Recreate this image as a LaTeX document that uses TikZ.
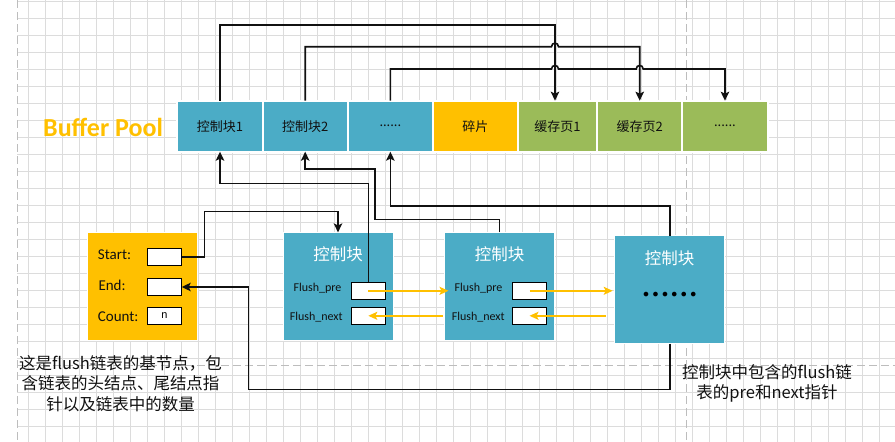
\documentclass[tikz,border=0pt]{standalone}
\usepackage{fontspec}
\setmainfont{Carlito}
\newfontfamily\cjk{Noto Sans CJK SC}
\newfontfamily\dejavu{DejaVu Sans}
\newfontfamily\monof{Liberation Mono}
\usetikzlibrary{arrows.meta}
\definecolor{cbblue}{HTML}{4BACC6}
\definecolor{cborange}{HTML}{FFC000}
\definecolor{cbgreen}{HTML}{9BBB59}
\definecolor{gridc}{HTML}{DCDCDC}
\definecolor{pagec}{HTML}{BDBDBD}
\definecolor{ink}{HTML}{111111}
\tikzset{
  gridline/.style={draw=gridc, line width=0.7pt},
  pageline/.style={draw=pagec, line width=0.9pt, dash pattern=on 8pt off 4pt},
  cell/.style={draw=white, line width=2pt, inner sep=0pt, outer sep=0pt,
    minimum height=51pt, font=\cjk\fontsize{13}{15}\selectfont, text=ink},
  bigbox/.style={draw=white, line width=1pt, inner sep=0pt, outer sep=0pt,
    minimum width=110pt, minimum height=108pt},
  field/.style={draw=black, fill=white, line width=0.8pt, inner sep=0pt,
    outer sep=0pt, minimum width=34.5pt, minimum height=17pt},
  flab/.style={font=\fontsize{12}{14}\selectfont, inner sep=0pt, text=ink, anchor=base},
  blab/.style={font=\fontsize{15}{18}\selectfont, inner sep=0pt, text=ink, anchor=base west},
  cbtitle/.style={font=\cjk\fontsize{16.5}{18}\selectfont, text=white, inner sep=0pt},
  anno/.style={font=\cjk\fontsize{16.5}{20.3}\selectfont, align=center, inner sep=0pt, text=ink},
  conn/.style={draw=ink, line width=1.6pt,
    -{Stealth[length=9pt,width=8.5pt,inset=2pt]}},
  yarrow/.style={draw=cborange, line width=1.5pt,
    -{Stealth[length=9pt,width=8pt,inset=2pt]}},
}
\begin{document}
\begin{tikzpicture}[x=1pt,y=-1pt]
\useasboundingbox (0,0) rectangle (895,442);
\fill[white] (0,0) rectangle (895,442);
% grid
\foreach \i in {0,...,51} {\draw[gridline] ({28.3+17.02*\i},0) -- ({28.3+17.02*\i},442);}
\foreach \j in {0,...,25} {\draw[gridline] (17,{1.28+17.02*\j}) -- (895,{1.28+17.02*\j});}
% page break lines
\draw[pageline] (17,0) -- (17,442);
\draw[pageline] (686,0) -- (686,442);
\draw[pageline] (17,365.5) -- (895,365.5);

% Buffer Pool row
\node[font=\bfseries\fontsize{26}{30}\selectfont, text=cborange, anchor=west, inner sep=0pt] (bptitle) at (43,127) {Buffer Pool};
\node[cell, fill=cbblue,   minimum width=85.4pt] (bp1) at (220,126.2) {控制块1};
\node[cell, fill=cbblue,   minimum width=85pt]   (bp2) at (305.2,126.2) {控制块2};
\node[cell, fill=cbblue,   minimum width=85.3pt] (bp3) at (390.35,126.2) {......};
\node[cell, fill=cborange, minimum width=84.7pt] (bp4) at (475.35,126.2) {碎片};
\node[cell, fill=cbgreen,  minimum width=79.5pt] (bp5) at (557.45,126.2) {缓存页1};
\node[cell, fill=cbgreen,  minimum width=85pt]   (bp6) at (639.7,126.2) {缓存页2};
\node[cell, fill=cbgreen,  minimum width=85.5pt] (bp7) at (724.95,126.2) {......};

% top connectors with line jumps
\draw[conn] (bp1.north) -- (220,25) -- (555,25) -- ([xshift=-2.45pt]bp5.north);
\draw[conn] (bp2.north) -- (305.2,46.7) -- (551.5,46.7)
  .. controls (551.5,42) and (558.5,42) .. (558.5,46.7)
  -- (639.7,46.7) -- (bp6.north);
\draw[conn] (bp3.north) -- (390.35,69) -- (551.5,69)
  .. controls (551.5,64.3) and (558.5,64.3) .. (558.5,69)
  -- (636.2,69)
  .. controls (636.2,64.3) and (643.2,64.3) .. (643.2,69)
  -- (724.95,69) -- (bp7.north);

% base node
\node[bigbox, fill=cborange, minimum width=109.7pt] (base) at (142.3,286.4) {};
\node[blab] (lstart) at (97.7,259.3) {Start:};
\node[blab] (lend) at (98.3,290.7) {End:};
\node[blab] (lcount) at (97.7,321.7) {Count:};
\node[field] (fstart) at (164.5,256.7) {};
\node[field] (fend) at (164.5,287) {};
\node[field, font=\monof\fontsize{11}{12}\selectfont] (fcount) at (164.5,315.7) {n};

% control blocks
\node[bigbox, fill=cbblue] (cb1) at (338,286.4) {};
\node[cbtitle] (t1) at (338,254.7) {控制块};
\node[flab] (lp1) at (317.5,291.7) {Flush\_pre};
\node[flab] (ln1) at (316.2,320) {Flush\_next};
\node[field] (fp1) at (368.3,290.8) {};
\node[field] (fn1) at (368.3,315.8) {};

\node[bigbox, fill=cbblue] (cb2) at (499.5,286.4) {};
\node[cbtitle] (t2) at (499.5,254.7) {控制块};
\node[flab] (lp2) at (478.5,291.7) {Flush\_pre};
\node[flab] (ln2) at (478.3,320) {Flush\_next};
\node[field] (fp2) at (529.5,290.8) {};
\node[field] (fn2) at (529.5,315.8) {};

\node[bigbox, fill=cbblue] (cb3) at (669.7,289.7) {};
\node[cbtitle] (t3) at (669.7,258.3) {控制块};
\node[font=\dejavu\fontsize{16}{18}\selectfont, inner sep=0pt, text=black] (dots) at (669.7,296.7) {••••••};

% black connectors
\draw[conn] (fstart.east) -- (204.3,256.7) -- (204.3,211.5) -- (338,211.5) -- (cb1.north);
\draw[conn] (fp1.north) -- (368.3,183.3) -- (220,183.3) -- (bp1.south);
\draw[conn] (cb2.north) -- (499.5,219.5) -- (375,219.5) -- (375,169) -- (305.2,169) -- (bp2.south);
\draw[conn] (cb3.north) -- (669.7,205.7) -- (390.35,205.7) -- (bp3.south);
\draw[conn] (cb3.south) -- (669.7,389.3) -- (248.3,389.3) -- (248.3,287) -- (fend.east);

% yellow flush arrows
\draw[yarrow, shorten >=-4pt] (fp1.center) -- (fp1.center -| cb2.west);
\draw[yarrow, shorten >=2pt] (fp2.center) -- (fp2.center -| cb3.west);
\draw[yarrow, shorten <=9pt] (fn2.center -| cb3.west) -- (fn2.center);
\draw[yarrow, shorten <=2pt] (fn1.center -| cb2.west) -- (fn1.center);

% annotations
\node[anno] (note1) at (120.5,383.5) {这是flush链表的基节点，包\\含链表的头结点、尾结点指\\针以及链表中的数量};
\node[anno] (note2) at (767,383.3) {控制块中包含的flush链\\表的pre和next指针};
\end{tikzpicture}
\end{document}
